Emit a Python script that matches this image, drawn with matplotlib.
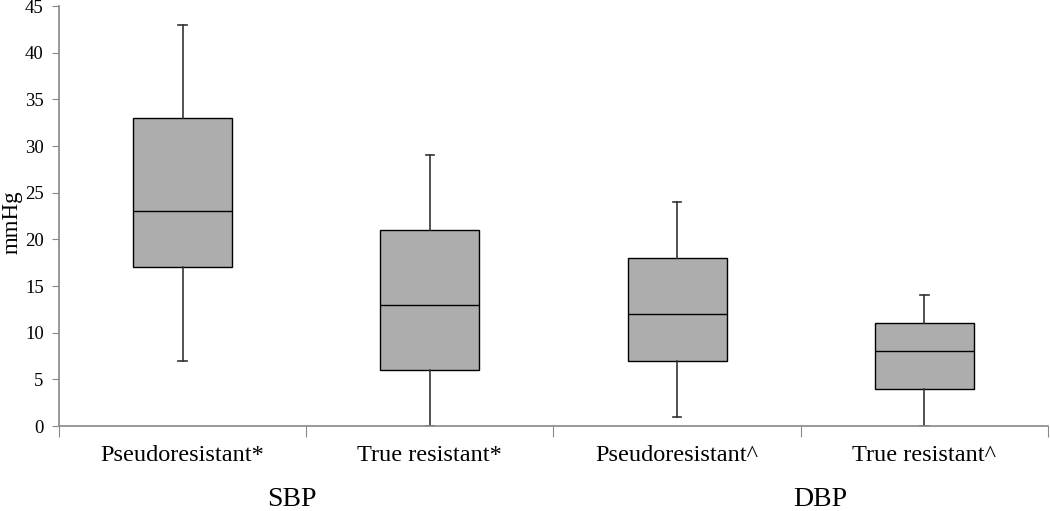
import matplotlib
matplotlib.use("Agg")
import matplotlib.pyplot as plt
import numpy as np

plt.rcParams["font.family"] = ["Liberation Serif", "DejaVu Serif"]

categories = ["Pseudoresistant*", "True resistant*", "Pseudoresistant^", "True resistant^"]
groups = ["SBP", "DBP"]
group_x = [0.44, 2.58]
whisker_lo = [7, 0, 1, 0]
q1 = [17, 6, 7, 4]
median = [23, 13, 12, 8]
q3 = [33, 21, 18, 11]
whisker_hi = [43, 29, 24, 14]

stats = []
for i, lab in enumerate(categories):
    stats.append({"label": lab, "whislo": whisker_lo[i], "q1": q1[i], "med": median[i],
                  "q3": q3[i], "whishi": whisker_hi[i], "fliers": []})

fig = plt.figure(figsize=(10.5, 5.11), dpi=100)
ax = fig.add_axes([0.0562, 0.1663, 0.9418, 0.8219])

pos = np.arange(len(categories))
ax.bxp(stats, positions=pos, widths=0.4, patch_artist=True, showfliers=False,
       boxprops=dict(facecolor="#adadad", edgecolor="black", linewidth=1.0),
       medianprops=dict(color="black", linewidth=1.0),
       whiskerprops=dict(color="#333333", linewidth=1.2),
       capprops=dict(color="#333333", linewidth=1.2), capwidths=0.035)

ax.set_xlim(-0.5, len(categories) - 0.5)
ax.set_ylim(0, 45)
ax.set_yticks(np.arange(0, 46, 5))
ax.tick_params(axis="y", labelsize=13.5, length=5, pad=6, color="#888888", direction="out")

ax.set_xticks(np.arange(-0.5, len(categories), 1.0))
ax.set_xticklabels([])
ax.set_xticks(pos, minor=True)
ax.set_xticklabels(categories, minor=True, fontsize=17.5)
ax.tick_params(axis="x", which="major", length=8, color="#888888", direction="out")
ax.tick_params(axis="x", which="minor", length=0, pad=14)

for s in ["top", "right"]:
    ax.spines[s].set_visible(False)
for s in ["left", "bottom"]:
    ax.spines[s].set_color("#888888")
    ax.spines[s].set_linewidth(1.2)

ax.set_ylabel("mmHg", fontsize=16.5, labelpad=0)
ax.yaxis.set_label_coords(-0.037, 0.486)

for name, gx in zip(groups, group_x):
    ax.text(gx, -0.175, name, transform=ax.get_xaxis_transform(),
            ha="center", va="center", fontsize=20)

fig.savefig("out.png", dpi=100)
